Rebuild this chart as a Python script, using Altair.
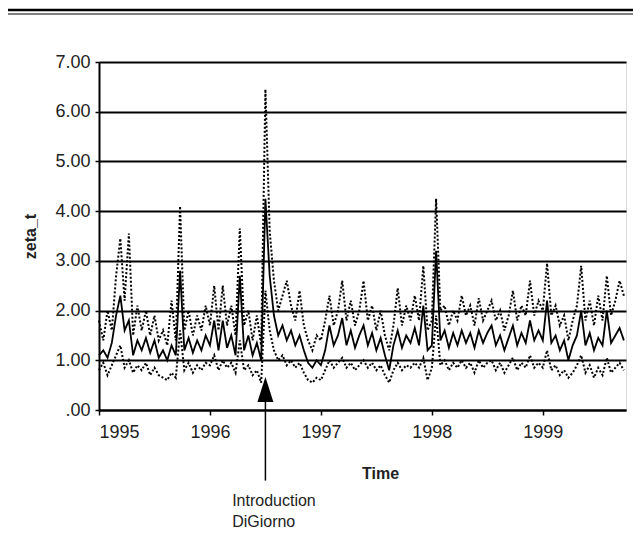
import altair as alt
import pandas as pd

start_year = 1995.0
step = 1 / 26

zeta_mean = [
    1.10, 1.20, 1.05, 1.35, 1.90, 2.30, 1.60, 1.80, 1.10, 1.40, 1.20, 1.45, 1.15,
    1.40, 1.05, 1.20, 1.00, 1.30, 1.10, 2.80, 1.20, 1.45, 1.15, 1.40, 1.20, 1.50,
    1.30, 1.80, 1.20, 1.80, 1.25, 1.50, 1.10, 2.70, 1.20, 1.50, 1.10, 1.35, 1.00,
    4.25, 2.70, 1.90, 1.50, 1.70, 1.40, 1.60, 1.30, 1.50, 1.20, 0.95, 0.85, 1.00,
    0.90, 1.20, 1.70, 1.30, 1.50, 1.85, 1.30, 1.60, 1.25, 1.50, 1.70, 1.30, 1.55,
    1.20, 1.45, 1.10, 0.80, 1.30, 1.60, 1.25, 1.50, 1.35, 1.65, 1.30, 2.10, 1.20,
    1.30, 3.20, 1.40, 1.60, 1.25, 1.55, 1.30, 1.60, 1.35, 1.55, 1.25, 1.60, 1.35,
    1.55, 1.70, 1.30, 1.50, 1.20, 1.45, 1.70, 1.30, 1.55, 1.35, 1.80, 1.40, 1.60,
    1.40, 2.20, 1.35, 1.50, 1.20, 1.40, 1.00, 1.30, 1.50, 2.00, 1.30, 1.55, 1.20,
    1.45, 1.30, 2.00, 1.35, 1.50, 1.65, 1.40,
]
zeta_upper = [
    1.80, 1.40, 2.00, 1.60, 2.70, 3.45, 2.20, 3.55, 1.50, 2.10, 1.60, 2.00, 1.50,
    1.90, 1.40, 1.60, 1.30, 2.20, 1.40, 4.10, 1.60, 2.00, 1.50, 1.90, 1.60, 2.10,
    1.70, 2.50, 1.60, 2.50, 1.70, 2.10, 1.50, 3.65, 1.70, 2.00, 1.40, 1.90, 1.30,
    6.45, 3.60, 2.60, 2.00, 2.30, 2.60, 2.10, 1.80, 2.40, 1.70, 1.40, 1.20, 1.50,
    1.40, 1.80, 2.30, 1.70, 2.00, 2.60, 1.80, 2.20, 1.70, 2.00, 2.60, 1.80, 2.10,
    1.60, 2.00, 1.50, 1.20, 1.70, 2.45, 1.70, 2.10, 1.80, 2.30, 1.80, 2.90, 1.60,
    1.80, 4.25, 2.00, 2.10, 1.70, 2.00, 1.80, 2.30, 1.90, 2.10, 1.70, 2.25, 1.80,
    2.00, 2.20, 1.80, 2.00, 1.60, 1.90, 2.40, 1.80, 2.10, 1.90, 2.60, 1.90, 2.20,
    2.00, 2.95, 1.90, 2.10, 1.70, 1.90, 1.40, 1.80, 2.10, 2.90, 1.80, 2.20, 1.70,
    2.30, 1.80, 2.70, 1.90, 2.20, 2.60, 2.30,
]
zeta_lower = [
    0.80, 0.95, 0.70, 0.90, 1.10, 1.30, 0.85, 1.00, 0.75, 0.90, 0.80, 0.95, 0.70,
    0.85, 0.70, 0.65, 0.60, 0.75, 0.65, 1.60, 0.80, 0.95, 0.75, 0.90, 0.80, 0.95,
    0.90, 1.10, 0.80, 1.00, 0.85, 0.95, 0.75, 1.40, 0.80, 0.90, 0.70, 0.80, 0.55,
    2.40, 1.60, 1.20, 1.00, 1.10, 0.90, 1.00, 0.85, 0.95, 0.75, 0.60, 0.55, 0.65,
    0.60, 0.80, 1.00, 0.85, 0.95, 1.05, 0.85, 0.95, 0.80, 0.90, 1.00, 0.85, 0.95,
    0.80, 0.90, 0.70, 0.55, 0.80, 0.95, 0.80, 0.90, 0.85, 0.95, 0.85, 1.05, 0.60,
    0.85, 1.90, 0.90, 1.00, 0.80, 0.95, 0.85, 1.00, 0.85, 0.95, 0.75, 1.00, 0.85,
    0.95, 1.00, 0.80, 0.95, 0.75, 0.90, 1.05, 0.80, 0.95, 0.85, 1.10, 0.85, 0.95,
    0.85, 1.20, 0.80, 0.90, 0.70, 0.80, 0.65, 0.75, 0.90, 1.10, 0.75, 0.90, 0.65,
    0.85, 0.70, 1.05, 0.75, 0.85, 0.95, 0.80,
]

year_ticks = [1995, 1996, 1997, 1998, 1999]
y_ticks = [0, 1, 2, 3, 4, 5, 6, 7]
x_domain = [1995.0, 1999.75]
y_domain = [0, 7]

# annotation (arrow marking the DiGiorno introduction)
arrow_x = [1996.5]
arrow_tip = [0.41]
arrow_line_top = [0.45]
arrow_line_bottom = [-1.42]
note_x = [1996.2, 1996.2]
note_y = [-1.83, -2.25]
note_text = ["Introduction", "DiGiorno"]

FONT = "Liberation Sans"

n = len(zeta_mean)
t = [start_year + i * step for i in range(n)]
df = pd.DataFrame({"t": t, "mean": zeta_mean, "upper": zeta_upper, "lower": zeta_lower})

xs = alt.Scale(domain=x_domain, nice=False, zero=False)
ys = alt.Scale(domain=y_domain, nice=False, zero=False)

x_enc = alt.X(
    "t:Q", scale=xs,
    axis=alt.Axis(values=year_ticks, format="d", title="Time", grid=False,
                  labelFontSize=18, labelPadding=8, labelColor="#222",
                  titleFontSize=16, titleFontWeight="bold", titleColor="#222",
                  titleX=281, titleY=63, titleBaseline="middle",
                  tickSize=5, tickWidth=1.5, tickColor="black",
                  domainColor="black", domainWidth=2),
)
y_axis = alt.Axis(
    values=y_ticks, title="zeta_t", grid=True, gridColor="black", gridWidth=2,
    gridOpacity=1,
    labelExpr="datum.value == 0 ? '.00' : format(datum.value, '.2f')",
    labelFontSize=18, labelPadding=5, labelColor="#222",
    titleFontSize=16, titleFontWeight="bold", titleColor="#222",
    titleX=-69, titleY=174, titleAngle=-90, titleBaseline="middle",
    tickSize=4, tickWidth=1.5, tickColor="black",
    domainColor="black", domainWidth=2,
)

base = alt.Chart(df)
mean_line = base.mark_line(color="black", strokeWidth=1.8).encode(
    x=x_enc, y=alt.Y("mean:Q", scale=ys, axis=y_axis)
)
upper_line = base.mark_line(color="black", strokeWidth=2, strokeDash=[2, 2]).encode(
    x="t:Q", y=alt.Y("upper:Q", scale=ys)
)
lower_line = base.mark_line(color="black", strokeWidth=2, strokeDash=[2, 2]).encode(
    x="t:Q", y=alt.Y("lower:Q", scale=ys)
)

arrow_df = pd.DataFrame({"x": arrow_x, "tip": arrow_tip,
                         "top": arrow_line_top, "bottom": arrow_line_bottom})
arrow_rule = alt.Chart(arrow_df).mark_rule(color="black", strokeWidth=1.5).encode(
    x=alt.X("x:Q", scale=xs), y=alt.Y("top:Q", scale=ys), y2="bottom:Q"
)
arrow_head = alt.Chart(arrow_df).mark_point(
    shape="M0,-1L0.64,1L-0.64,1Z", filled=True, color="black", opacity=1,
    size=625, strokeWidth=0,
).encode(x=alt.X("x:Q", scale=xs), y=alt.Y("tip:Q", scale=ys))

note_df = pd.DataFrame({"x": note_x, "y": note_y, "text": note_text})
notes = alt.Chart(note_df).mark_text(
    align="left", baseline="middle", font=FONT, fontSize=16, color="#222"
).encode(x=alt.X("x:Q", scale=xs), y=alt.Y("y:Q", scale=ys), text="text:N")

# decorative double rule at the top of the page
top_rule1 = alt.Chart(df).mark_rule(color="black", strokeWidth=2.5).encode(
    x=alt.value(-93), x2=alt.value(542), y=alt.value(-52)
)
top_rule2 = alt.Chart(df).mark_rule(color="black", strokeWidth=1.2).encode(
    x=alt.value(-93), x2=alt.value(542), y=alt.value(-48)
)

chart = alt.layer(
    mean_line, upper_line, lower_line, arrow_rule, arrow_head, notes,
    top_rule1.transform_filter("datum.t == 1995"),
    top_rule2.transform_filter("datum.t == 1995"),
).properties(
    width=527, height=348,
    autosize=alt.AutoSizeParams(type="none"),
    padding={"left": 91, "top": 54, "right": 7, "bottom": 121},
).configure_view(
    stroke="black", strokeWidth=2
).configure_axis(
    labelFont=FONT, titleFont=FONT
).configure(background="white")

chart.save("out.html", embed_options={"renderer": "svg", "actions": False})
